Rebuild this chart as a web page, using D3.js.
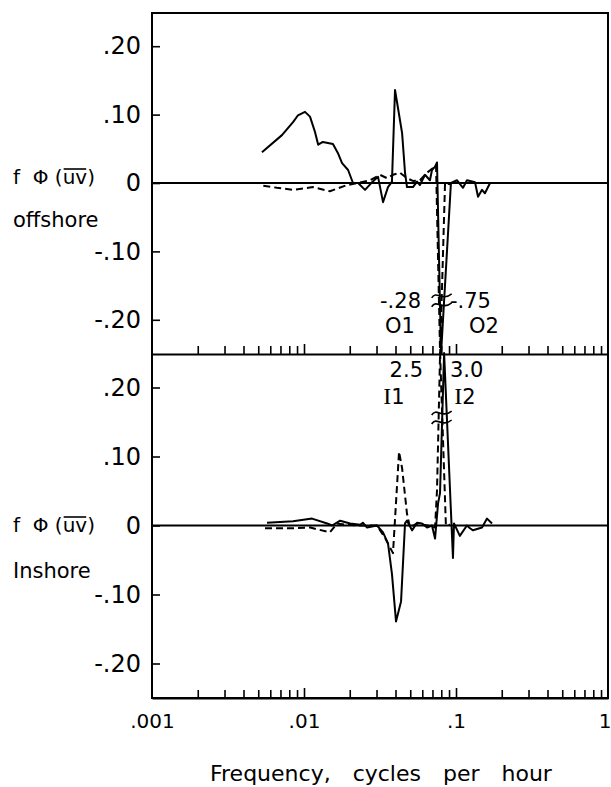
<!DOCTYPE html>
<html>
<head>
<meta charset="utf-8">
<script src="https://cdn.jsdelivr.net/npm/d3@7"></script>
<style>
  body { margin: 0; background: #fff; }
  svg { display: block; }
  text { font-family: "DejaVu Sans", sans-serif; fill: #000; }
</style>
</head>
<body>
<div id="container"></div>
<script>
/* CONSTANTS AND GLOBALS */
const width = 611;
const height = 787;
const margin = { top: 13, bottom: 89, left: 152, right: 3 };
const divider = 354;

/* DATA */
// frequency in cycles per hour
const decadeTicks = [0.001, 0.01, 0.1, 1];
const decadeLabels = [".001", ".01", ".1", "1"];
const yTickValues = [-0.2, -0.1, 0, 0.1, 0.2];
const yTickLabels = ["-.20", "-.10", "0", ".10", ".20"];

// offshore, solid (O2)
const offO2Freq = [0.00529, 0.00716, 0.00847, 0.00913, 0.01015, 0.01095, 0.0118, 0.0124, 0.0133, 0.0155, 0.0167, 0.0178, 0.0195, 0.021, 0.0227, 0.0252, 0.028, 0.0307, 0.0331, 0.0357, 0.0379, 0.0397, 0.0415, 0.0442, 0.0462, 0.0476, 0.0521, 0.0554, 0.0579, 0.0625, 0.0674, 0.0695, 0.0728, 0.075, 0.0797, 0.0925, 0.0941, 0.1016, 0.1112, 0.1181, 0.1334, 0.1396, 0.1483, 0.155, 0.1675];
const offO2Val  = [0.045, 0.070, 0.089, 0.099, 0.104, 0.097, 0.075, 0.056, 0.060, 0.057, 0.044, 0.029, 0.019, 0.0, 0.0, -0.010, 0.001, 0.009, -0.028, -0.006, 0.002, 0.136, 0.110, 0.073, 0.015, -0.006, -0.006, 0.002, -0.003, 0.012, 0.004, 0.019, 0.024, 0.030, -0.75, -0.002, 0.001, 0.004, -0.007, 0.004, 0.001, -0.020, -0.010, -0.015, 0.0];

// offshore, dashed (O1)
const offO1Freq = [0.0054, 0.00664, 0.00847, 0.01146, 0.0148, 0.0192, 0.0227, 0.0272, 0.0316, 0.0352, 0.0385, 0.0428, 0.0476, 0.0521, 0.0579, 0.0645, 0.0706, 0.0739, 0.0786, 0.0847, 0.0914];
const offO1Val  = [-0.004, -0.007, -0.010, -0.006, -0.012, -0.003, 0.0, 0.004, 0.012, 0.007, 0.012, 0.015, 0.007, 0.003, 0.004, 0.015, 0.022, 0.026, -0.28, 0.0, -0.002];

// inshore, solid (I2)
const insI2Freq = [0.00571, 0.00847, 0.0113, 0.0142, 0.0153, 0.0173, 0.0201, 0.0234, 0.0244, 0.026, 0.0302, 0.0331, 0.0357, 0.0379, 0.0403, 0.0435, 0.0462, 0.0476, 0.0514, 0.0554, 0.0597, 0.0645, 0.0695, 0.0728, 0.0762, 0.0785, 0.0835, 0.0955, 0.097, 0.106, 0.118, 0.1236, 0.1294, 0.1483, 0.16, 0.1726];
const insI2Val  = [0.004, 0.006, 0.010, 0.003, 0.0, 0.007, 0.003, 0.001, 0.004, -0.003, 0.0, -0.010, -0.026, -0.070, -0.139, -0.110, 0.003, 0.007, -0.007, 0.004, 0.003, -0.003, 0.0, -0.019, 0.032, 0.047, 3.0, -0.047, 0.003, -0.015, 0.0, -0.004, -0.007, -0.003, 0.010, 0.003];

// inshore, dashed (I1)
const insI1Freq = [0.00554, 0.00847, 0.011, 0.0148, 0.0165, 0.0192, 0.0234, 0.0302, 0.0341, 0.0385, 0.0422, 0.0442, 0.0476, 0.0498, 0.0554, 0.0645, 0.0728, 0.075, 0.0786, 0.0858, 0.0914];
const insI1Val  = [-0.004, -0.004, -0.003, -0.010, 0.003, 0.001, 0.0, 0.0, -0.018, -0.040, 0.107, 0.083, 0.017, -0.003, 0.003, 0.0, -0.003, 0.051, 2.5, 0.0, 0.001];

// off-scale peaks and axis breaks
const peakFreq = 0.0805;
const topBreaks = [-0.165, -0.178];
const botBreaks = [0.163, 0.150];

/* SCALES */
const xScale = d3.scaleLog()
  .domain([0.001, 1])
  .range([margin.left, width - margin.right]);

const yTop = d3.scaleLinear()
  .domain([-0.25, 0.25])
  .range([divider, 12])
  .clamp(true);

const yBot = d3.scaleLinear()
  .domain([-0.25, 0.25])
  .range([height - margin.bottom, divider - 1])
  .clamp(true);

/* HTML ELEMENTS */
const svg = d3.select("#container")
  .append("svg")
  .attr("width", width)
  .attr("height", height);

// frame
svg.append("rect")
  .attr("x", margin.left)
  .attr("y", margin.top)
  .attr("width", width - margin.right - margin.left)
  .attr("height", height - margin.bottom - margin.top)
  .attr("fill", "none")
  .attr("stroke", "#000")
  .attr("stroke-width", 2);

const fmtY = v => yTickLabels[yTickValues.indexOf(v)];
const isDecade = d => Math.abs(Math.log10(d) - Math.round(Math.log10(d))) < 1e-6;

// log ticks along the divider and the bottom axis, pointing up
[divider, height - margin.bottom].forEach(yPos => {
  const g = svg.append("g")
    .attr("transform", `translate(0,${yPos})`)
    .call(d3.axisTop(xScale)
      .tickValues(xScale.ticks().filter(d => d > 0.001 && d < 1))
      .tickSize(8)
      .tickSizeOuter(0)
      .tickFormat(""));
  g.select(".domain").attr("stroke-width", 2);
  g.selectAll(".tick line")
    .attr("stroke-width", 1.6)
    .attr("y2", d => isDecade(d) ? -10 : -8);
});

// x labels
const xLab = svg.append("g")
  .attr("transform", `translate(0,${height - margin.bottom})`)
  .call(d3.axisBottom(xScale)
    .tickValues(decadeTicks)
    .tickSize(0)
    .tickPadding(16)
    .tickFormat((d, i) => decadeLabels[i]));
xLab.select(".domain").remove();
xLab.selectAll("text")
  .style("font-family", "'DejaVu Sans', sans-serif")
  .style("font-size", "20px");
// last label sits against the right edge
xLab.selectAll("text").filter(d => d === 1)
  .attr("text-anchor", "end")
  .attr("x", 3);

// y axes for both panels
[yTop, yBot].forEach(y => {
  const g = svg.append("g")
    .attr("transform", `translate(${margin.left},0)`)
    .call(d3.axisLeft(y)
      .tickValues(yTickValues)
      .tickSize(-8)
      .tickSizeOuter(0)
      .tickPadding(11)
      .tickFormat(fmtY));
  g.select(".domain").remove();
  g.selectAll(".tick line").attr("stroke-width", 1.6);
  g.selectAll("text")
    .style("font-family", "'DejaVu Sans', sans-serif")
    .style("font-size", "24px");

  svg.append("line")
    .attr("x1", margin.left)
    .attr("x2", width - margin.right)
    .attr("y1", y(0))
    .attr("y2", y(0))
    .attr("stroke", "#000")
    .attr("stroke-width", 1.8);
});

// series
const series = [
  { f: offO2Freq, v: offO2Val, y: yTop, dash: null },
  { f: offO1Freq, v: offO1Val, y: yTop, dash: "7,4" },
  { f: insI2Freq, v: insI2Val, y: yBot, dash: null },
  { f: insI1Freq, v: insI1Val, y: yBot, dash: "7,4" }
];

series.forEach(s => {
  const pts = s.f.map((f, i) => [f, s.v[i]]);
  svg.append("path")
    .datum(pts)
    .attr("fill", "none")
    .attr("stroke", "#000")
    .attr("stroke-width", 2)
    .attr("stroke-linejoin", "round")
    .attr("stroke-dasharray", s.dash)
    .attr("d", d3.line().x(d => xScale(d[0])).y(d => s.y(d[1])));
});

// axis-break marks across the off-scale peaks
const tilde = (cx, cy) => `M${cx - 10},${cy + 2} C${cx - 5},${cy - 6} ${cx},${cy + 6} ${cx + 10},${cy - 2}`;
[[yTop, topBreaks], [yBot, botBreaks]].forEach(([y, vals]) => {
  vals.forEach(v => {
    svg.append("path")
      .attr("d", tilde(xScale(peakFreq), y(v)))
      .attr("fill", "none")
      .attr("stroke", "#000")
      .attr("stroke-width", 1.6);
  });
});

// peak annotations
const annot = [
  { t: "-.28", x: 421, y: 308, a: "end" },
  { t: "-.75", x: 450, y: 308, a: "start" },
  { t: "O1", x: 400, y: 333, a: "middle" },
  { t: "O2", x: 484, y: 333, a: "middle" },
  { t: "2.5", x: 423, y: 377, a: "end" },
  { t: "3.0", x: 450, y: 377, a: "start" }
];
annot.forEach(d => {
  svg.append("text")
    .attr("x", d.x).attr("y", d.y)
    .attr("text-anchor", d.a)
    .style("font-size", "21px")
    .text(d.t);
});
[["1", 394], ["2", 465]].forEach(([n, cx]) => {
  const t = svg.append("text")
    .attr("x", cx).attr("y", 404)
    .attr("text-anchor", "middle")
    .style("font-size", "21px");
  t.append("tspan").style("font-family", "'Liberation Serif', serif").style("font-size", "24px").text("I");
  t.append("tspan").text(n);
});

// left labels
function phiLabel(yBase) {
  const t = svg.append("text")
    .attr("x", 13).attr("y", yBase)
    .attr("xml:space", "preserve")
    .style("font-size", "20px")
    .text("f  \u03A6 (uv)");
  const n = t.node();
  const s = t.text();
  const i0 = s.indexOf("u");
  const x0 = n.getStartPositionOfChar(i0).x;
  const x1 = n.getEndPositionOfChar(i0 + 1).x;
  svg.append("line")
    .attr("x1", x0 + 1).attr("x2", x1 - 1)
    .attr("y1", yBase - 15).attr("y2", yBase - 15)
    .attr("stroke", "#000")
    .attr("stroke-width", 1.6);
}
phiLabel(184);
phiLabel(532);

svg.append("text")
  .attr("x", 13).attr("y", 227)
  .style("font-size", "21px")
  .text("offshore");

svg.append("text")
  .attr("x", 13).attr("y", 578)
  .style("font-size", "21px")
  .text("Inshore");

svg.append("text")
  .attr("x", 210).attr("y", 781)
  .style("font-size", "22px")
  .style("word-spacing", "15px")
  .text("Frequency, cycles per hour");
</script>
</body>
</html>
